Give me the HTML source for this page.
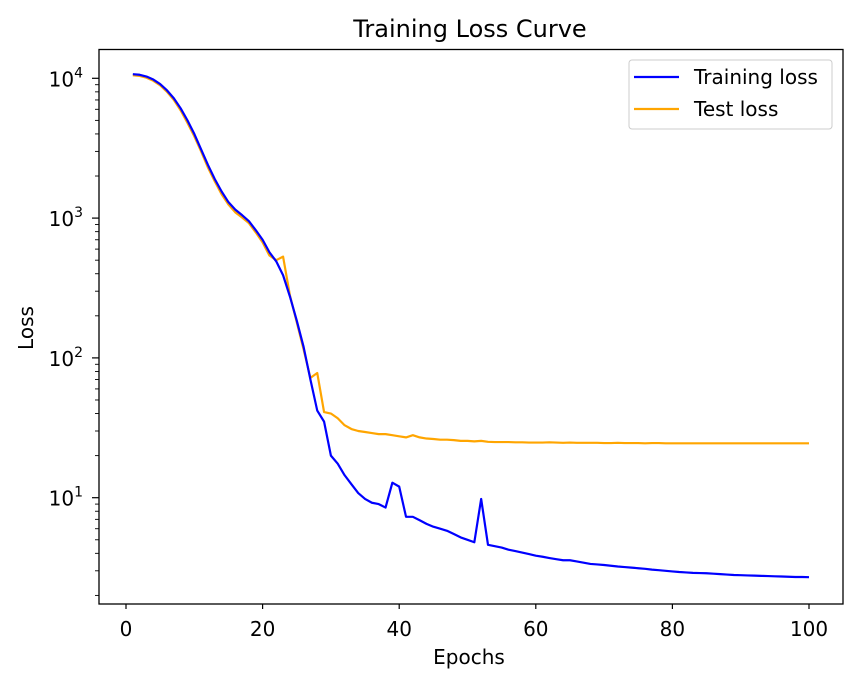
<!DOCTYPE html>
<html><head><meta charset="utf-8"><style>
body{margin:0;background:#fff;}
svg text{font-family:"DejaVu Sans","Liberation Sans",sans-serif;fill:#000;}
</style></head><body>
<svg id="chart" width="856" height="684" viewBox="0 0 856 684">
<rect width="856" height="684" fill="#fff"/>
<text x="470" y="37" font-size="24" text-anchor="middle">Training Loss Curve</text>
<g id="plot"></g>
<rect x="99" y="49.5" width="744" height="554.5" fill="none" stroke="#000" stroke-width="1.3"/>
<text x="469" y="664" font-size="20" text-anchor="middle">Epochs</text>
<text transform="translate(33,328) rotate(-90)" font-size="20" text-anchor="middle">Loss</text>
<g>
<rect x="629" y="60" width="203" height="69" rx="3" fill="#fff" stroke="#ccc" stroke-width="1"/>
<line x1="634" y1="77" x2="679" y2="77" stroke="#0000ff" stroke-width="2.2"/>
<text x="694" y="84" font-size="20">Training loss</text>
<line x1="634" y1="109" x2="679" y2="109" stroke="#ffa500" stroke-width="2.2"/>
<text x="694" y="116" font-size="20">Test loss</text>
</g>
</svg>
<script>
const epochs = Array.from({length:100},(_,i)=>i+1);
const trainLoss = [10700,10600,10300,9800,9100,8200,7200,6100,5000,4000,3100,2400,1900,1550,1300,1150,1050,950,820,700,570,490,390,275,185,120,70,42,35,20,17.5,14.5,12.5,10.8,9.8,9.2,9.0,8.5,12.8,12.0,7.3,7.3,6.9,6.5,6.2,6.0,5.8,5.5,5.2,5.0,4.8,9.8,4.6,4.5,4.4,4.25,4.15,4.05,3.95,3.85,3.78,3.7,3.63,3.57,3.57,3.5,3.43,3.36,3.33,3.3,3.26,3.22,3.19,3.16,3.13,3.1,3.06,3.03,3.0,2.97,2.94,2.92,2.9,2.89,2.88,2.86,2.84,2.82,2.8,2.79,2.78,2.77,2.76,2.75,2.74,2.73,2.72,2.71,2.71,2.7];
const testLoss = [10500,10400,10100,9600,8900,8000,7000,5900,4800,3850,3000,2300,1830,1480,1250,1100,1010,920,790,670,540,500,530,280,180,115,72,78,41,40,37,33,31,30,29.5,29,28.5,28.5,28,27.5,27,28,27,26.5,26.3,26,26,25.8,25.5,25.5,25.3,25.5,25.1,25,25,25,24.9,24.9,24.8,24.8,24.8,24.9,24.8,24.7,24.8,24.7,24.7,24.7,24.7,24.6,24.6,24.7,24.6,24.6,24.6,24.5,24.6,24.6,24.5,24.5,24.5,24.5,24.5,24.5,24.5,24.5,24.5,24.5,24.5,24.5,24.5,24.5,24.5,24.5,24.5,24.5,24.5,24.5,24.5,24.5];
const xTicks = [0,20,40,60,80,100];
const yMajor = [1,2,3,4];
const ns='http://www.w3.org/2000/svg';
const X = v => 126 + v*6.83;
const Y = v => 637.5 - 139.8*Math.log10(v);
const g = document.getElementById('plot');
function mk(t,a){const e=document.createElementNS(ns,t);for(const k in a)e.setAttribute(k,a[k]);return e;}
xTicks.forEach(t=>{
  const l=mk('line',{x1:X(t),x2:X(t),y1:604,y2:609,stroke:'#000','stroke-width':1.2});
  
  
  g.appendChild(l);
  const tx=mk('text',{x:X(t),y:636,'font-size':20,'text-anchor':'middle'});
  
  
  tx.textContent=t;g.appendChild(tx);
});
for(let d=0;d<=4;d++){for(let m=1;m<10;m++){
  const v=m*Math.pow(10,d);const y=Y(v);
  if(y<49.5||y>604)continue;
  const l=mk('line',{x1:m==1?92:95,x2:99,y1:y,y2:y,stroke:'#000','stroke-width':m==1?1.2:0.9});
  
  
  g.appendChild(l);
}}
yMajor.forEach(p=>{
  const tx=mk('text',{x:83,y:Y(Math.pow(10,p))+8,'font-size':20,'text-anchor':'end'});
  
  
  tx.innerHTML='10<tspan dy="-9" font-size="14">'+p+'</tspan>';
  g.appendChild(tx);
});
function line(vals,color,name){
  const p=mk('polyline',{points:vals.map((v,i)=>X(epochs[i])+','+Y(v)).join(' '),fill:'none',stroke:color,'stroke-width':2.2,'stroke-linejoin':'round'});
  
  
  g.appendChild(p);
}
line(testLoss,'#ffa500','test-loss-line');
line(trainLoss,'#0000ff','training-loss-line');
</script>
</body></html>
